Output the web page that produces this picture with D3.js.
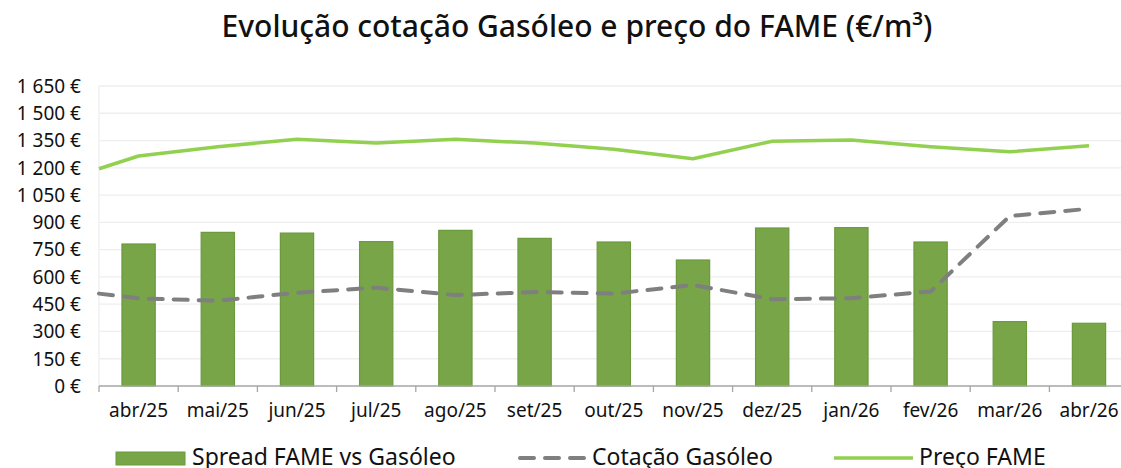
<!DOCTYPE html>
<head>
    <meta charset="utf-8">
    <title>Evolução cotação Gasóleo e preço do FAME</title>
    <script src="https://d3js.org/d3.v7.min.js"></script>
    <style>
        body { margin: 0; background: #fff; }
        text { font-family: 'Noto Sans', sans-serif; fill: #111; }
    </style>
</head>
<body>
<script>
    // months on the category axis
    var months = ["abr/25", "mai/25", "jun/25", "jul/25", "ago/25", "set/25", "out/25",
        "nov/25", "dez/25", "jan/26", "fev/26", "mar/26", "abr/26"];

    // bars: spread FAME vs gasóleo (€/m3)
    var spread = [781, 845, 841, 794, 856, 812, 792, 693, 869, 871, 792, 354, 345];

    // lines: first value sits on the left axis edge, then one per month
    var gasoleo = [508, 482, 469, 513, 541, 500, 517, 508, 556, 477, 483, 520, 935, 975];
    var fame = [1195, 1265, 1316, 1357, 1336, 1357, 1336, 1302, 1250, 1346, 1353, 1316, 1288, 1322];

    var yTicks = [0, 150, 300, 450, 600, 750, 900, 1050, 1200, 1350, 1500, 1650];

    var legendLabels = ["Spread FAME vs Gasóleo", "Cotação Gasóleo", "Preço FAME"];

    (function () {
        var width = 1121,
            height = 468;

        var svg = d3.select("body").append("svg")
            .attr("width", width)
            .attr("height", height);

        var pt = d3.formatLocale({ decimal: ",", thousands: "\u00a0", grouping: [3], currency: ["", "\u00a0€"] });
        var fmt = pt.format("$,.0f");

        var plotLeft = 99, plotTop = 86, plotBottom = 386;
        var step = 79.2;

        var x = d3.scaleBand()
            .domain(months)
            .range([plotLeft, plotLeft + step * months.length])
            .padding(0);

        var y = d3.scaleLinear()
            .domain([0, 1650])
            .range([plotBottom, plotTop]);

        // title
        svg.append("text")
            .attr("x", 577)
            .attr("y", 37)
            .attr("text-anchor", "middle")
            .style("font-size", "30px")
            .style("font-weight", "500")
            .text("Evolução cotação Gasóleo e preço do FAME (€/m³)");

        // grid
        svg.append("g").selectAll("line")
            .data(yTicks.filter(function (d) { return d > 0; }))
            .enter().append("line")
            .attr("x1", plotLeft).attr("x2", width)
            .attr("y1", function (d) { return y(d); })
            .attr("y2", function (d) { return y(d); })
            .style("stroke", "#eeeeee")
            .style("stroke-width", 1.3);

        svg.append("line")
            .attr("x1", plotLeft).attr("x2", plotLeft)
            .attr("y1", plotTop).attr("y2", plotBottom)
            .style("stroke", "#eeeeee")
            .style("stroke-width", 1.3);

        // y labels
        svg.append("g").selectAll("text")
            .data(yTicks)
            .enter().append("text")
            .attr("x", 81)
            .attr("y", function (d) { return y(d); })
            .attr("dy", "0.36em")
            .attr("text-anchor", "end")
            .style("font-size", "19px")
            .text(function (d) { return fmt(d); });

        // bars
        var bw = x.bandwidth() * 0.42;
        svg.append("g").selectAll("rect")
            .data(spread)
            .enter().append("rect")
            .attr("x", function (d, i) { return x(months[i]) + (x.bandwidth() - bw) / 2; })
            .attr("y", function (d) { return y(d); })
            .attr("width", bw)
            .attr("height", function (d) { return y(0) - y(d); })
            .style("fill", "#77a548")
            .style("stroke", "#6a9a3c")
            .style("stroke-width", 1.2);

        // x axis
        var xAxis = svg.append("g").attr("transform", "translate(0," + plotBottom + ")");
        xAxis.append("line")
            .attr("x1", plotLeft).attr("x2", x.range()[1])
            .style("stroke", "#a6a6a6")
            .style("stroke-width", 1.5);
        xAxis.selectAll(".tick")
            .data(months.concat([null]))
            .enter().append("line")
            .attr("class", "tick")
            .attr("x1", function (d, i) { return plotLeft + i * x.step(); })
            .attr("x2", function (d, i) { return plotLeft + i * x.step(); })
            .attr("y1", 0).attr("y2", 6)
            .style("stroke", "#a6a6a6")
            .style("stroke-width", 1.3);
        xAxis.selectAll("text")
            .data(months)
            .enter().append("text")
            .attr("x", function (d) { return x(d) + x.bandwidth() / 2; })
            .attr("y", 31)
            .attr("text-anchor", "middle")
            .style("font-size", "19px")
            .text(function (d) { return d; });

        function px(d, i) {
            return i === 0 ? x.range()[0] : x(months[i - 1]) + x.bandwidth() / 2;
        }

        var line = d3.line()
            .x(px)
            .y(function (d) { return y(d); });

        svg.append("path")
            .datum(gasoleo)
            .attr("d", line)
            .style("fill", "none")
            .style("stroke", "#7f7f7f")
            .style("stroke-width", 4)
            .style("stroke-dasharray", "14,11")
            .style("stroke-linecap", "round");

        svg.append("path")
            .datum(fame)
            .attr("d", line)
            .style("fill", "none")
            .style("stroke", "#92d050")
            .style("stroke-width", 3.5)
            .style("stroke-linejoin", "round");

        // legend
        var lg = svg.append("g");
        lg.append("rect")
            .attr("x", 116).attr("y", 452)
            .attr("width", 69).attr("height", 13)
            .style("fill", "#77a548")
            .style("stroke", "#6a9a3c");
        lg.append("line")
            .attr("x1", 520).attr("x2", 584)
            .attr("y1", 458).attr("y2", 458)
            .style("stroke", "#7f7f7f")
            .style("stroke-width", 4)
            .style("stroke-dasharray", "14,11")
            .style("stroke-linecap", "round");
        lg.append("line")
            .attr("x1", 834).attr("x2", 913)
            .attr("y1", 458).attr("y2", 458)
            .style("stroke", "#92d050")
            .style("stroke-width", 3.5);
        lg.selectAll("text")
            .data(legendLabels)
            .enter().append("text")
            .attr("x", function (d, i) { return [192, 592, 919][i]; })
            .attr("y", 465)
            .style("font-size", "23px")
            .text(function (d) { return d; });
    })();
</script>
</body>
</html>
